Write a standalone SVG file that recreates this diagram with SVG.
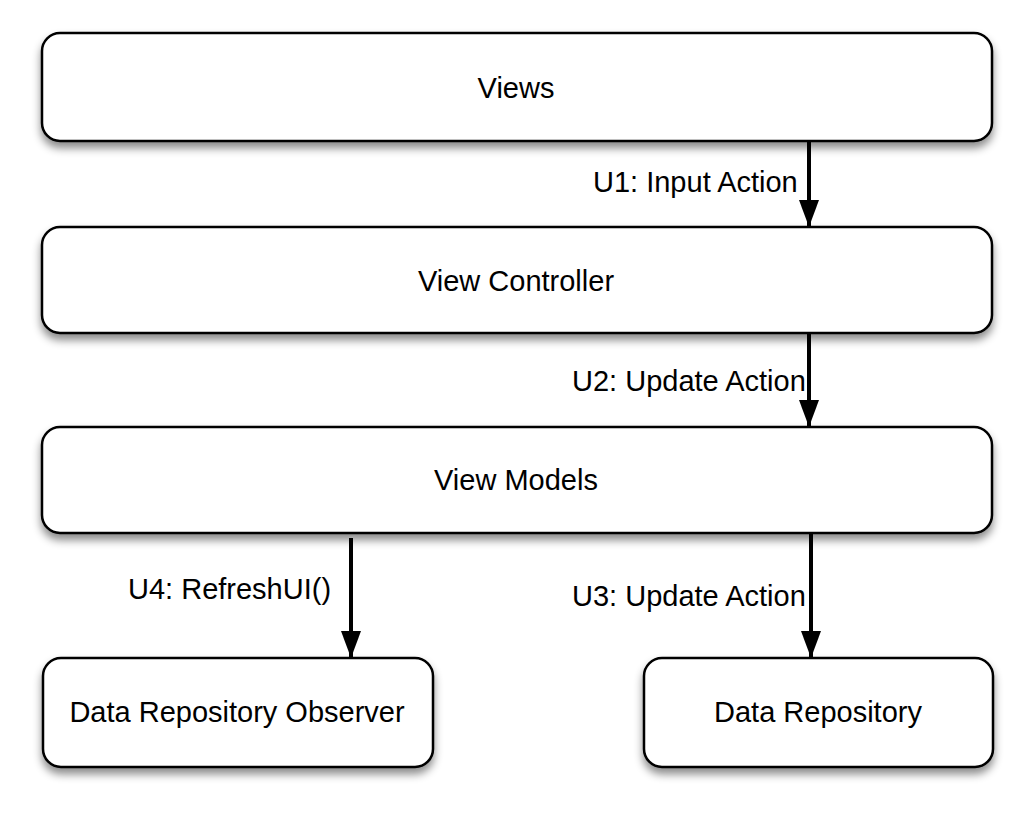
<svg xmlns="http://www.w3.org/2000/svg" width="1033" height="816" viewBox="0 0 1033 816">
<style>
.box{fill:#fff;stroke:#000;stroke-width:2.5;filter:url(#sh)}
.t{font-family:"Liberation Sans",Arial,sans-serif;font-size:29px;fill:#000;text-anchor:middle}
.l{font-family:"Liberation Sans",Arial,sans-serif;font-size:29px;fill:#000}
.c{stroke:#000;stroke-width:4;fill:none;marker-end:url(#ah)}
</style>
<defs>
<filter id="sh" x="-10%" y="-20%" width="120%" height="150%">
<feDropShadow dx="0" dy="6" stdDeviation="4" flood-color="#000" flood-opacity="0.45"/>
</filter>
<marker id="ah" markerUnits="userSpaceOnUse" markerWidth="28" markerHeight="20" refX="27" refY="10" orient="auto" viewBox="0 0 28 20">
<path d="M0,0 L27,10 L0,20 Z" fill="#000"/>
</marker>
</defs>
<rect width="1033" height="816" fill="#fff"/>
<g id="views"><rect class="box" x="42" y="33" width="950" height="108" rx="18"/><text class="t" x="516" y="98">Views</text></g>
<g id="view-controller"><rect class="box" x="42" y="227" width="950" height="106" rx="18"/><text class="t" x="516" y="291">View Controller</text></g>
<g id="view-models"><rect class="box" x="42" y="427" width="950" height="106" rx="18"/><text class="t" x="516" y="490">View Models</text></g>
<g id="observer"><rect class="box" x="43" y="658" width="390" height="109" rx="18"/><text class="t" x="237" y="722">Data Repository Observer</text></g>
<g id="repository"><rect class="box" x="644" y="658" width="349" height="109" rx="18"/><text class="t" x="818" y="722">Data Repository</text></g>
<g id="connectors">
<line class="c" x1="809" y1="142" x2="809" y2="227"/>
<line class="c" x1="809" y1="334" x2="809" y2="427"/>
<line class="c" x1="351" y1="538" x2="351" y2="658"/>
<line class="c" x1="811" y1="534" x2="811" y2="658"/>
<text class="l" x="593" y="192">U1: Input Action</text>
<text class="l" x="572" y="391">U2: Update Action</text>
<text class="l" x="128" y="599">U4: RefreshUI()</text>
<text class="l" x="572" y="606">U3: Update Action</text>
</g>
</svg>
